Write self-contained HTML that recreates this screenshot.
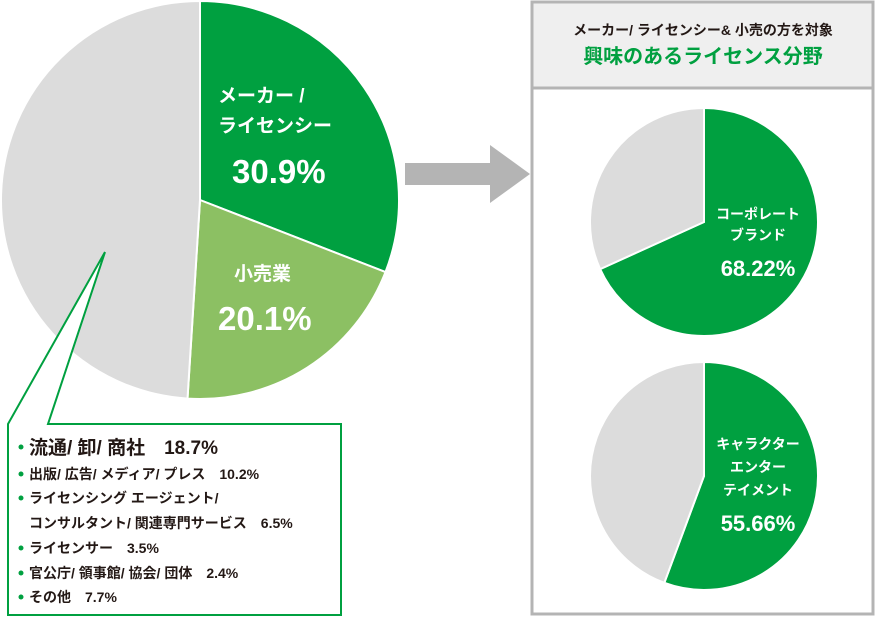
<!DOCTYPE html>
<html><head><meta charset="utf-8">
<style>
body{margin:0;background:#fff;font-family:"Liberation Sans","Noto Sans CJK JP",sans-serif;}
svg{display:block}
text{font-family:"Liberation Sans","Noto Sans CJK JP",sans-serif;font-weight:bold}
</style></head>
<body>
<svg id="chart" width="876" height="618" viewBox="0 0 876 618">
  <g id="mainPie"></g>
  <polygon points="105,252 8,424 48,424" fill="#fff"/>
  <polyline points="105,252 8,424 8,615 341,615 341,424 48,424 105,252" fill="#fff" stroke="#00a040" stroke-width="2"/>
  <g fill="#231815">
    <g fill="#00a040"><circle cx="21" cy="447" r="2.5"/><circle cx="21" cy="474" r="2.5"/><circle cx="21" cy="498" r="2.5"/><circle cx="21" cy="548" r="2.5"/><circle cx="21" cy="573" r="2.5"/><circle cx="21" cy="597" r="2.5"/></g>
    <text x="29" y="454" font-size="19">流通/ 卸/ 商社　18.7%</text>
    <text x="29" y="479" font-size="14">出版/ 広告/ メディア/ プレス　10.2%</text>
    <text x="29" y="503" font-size="14">ライセンシング エージェント/</text>
    <text x="29" y="528" font-size="14">コンサルタント/ 関連専門サービス　6.5%</text>
    <text x="29" y="553" font-size="14">ライセンサー　3.5%</text>
    <text x="29" y="578" font-size="14">官公庁/ 領事館/ 協会/ 団体　2.4%</text>
    <text x="29" y="602" font-size="14">その他　7.7%</text>
  </g>
  <g fill="#fff">
    <text x="218" y="102" font-size="19">メーカー /</text>
    <text x="218" y="132" font-size="19">ライセンシー</text>
    <text x="232" y="183" font-size="33">30.9%</text>
    <text x="234" y="280" font-size="19">小売業</text>
    <text x="218" y="330" font-size="33">20.1%</text>
  </g>
  <polygon points="405,163 490,163 490,145 530,174 490,203 490,185 405,185" fill="#b4b4b4"/>
  <rect x="532" y="2" width="341" height="612" fill="#fff" stroke="#b4b4b4" stroke-width="3"/>
  <rect x="532" y="2" width="341" height="86" fill="#efefef" stroke="#b4b4b4" stroke-width="3"/>
  <text x="703" y="35" font-size="14" text-anchor="middle" fill="#231815">メーカー/ ライセンシー&amp; 小売の方を対象</text>
  <text x="703" y="63" font-size="20" text-anchor="middle" fill="#00a040">興味のあるライセンス分野</text>
  <g id="pieTop"></g>
  <g id="pieBottom"></g>
  <g fill="#fff">
    <text x="758" y="219" font-size="14" text-anchor="middle">コーポレート</text>
    <text x="758" y="240" font-size="14" text-anchor="middle">ブランド</text>
    <text x="758" y="276" font-size="22" text-anchor="middle">68.22%</text>
    <text x="758" y="449" font-size="14" text-anchor="middle">キャラクター</text>
    <text x="758" y="472" font-size="14" text-anchor="middle">エンター</text>
    <text x="758" y="495" font-size="14" text-anchor="middle">テイメント</text>
    <text x="758" y="531" font-size="22" text-anchor="middle">55.66%</text>
  </g>
</svg>
<script>
const mainCategories = ["licensee","retail","other"];
const mainValues = [30.9, 20.1, 49.0];
const mainColors = ["#00a040","#8cc063","#dcdcdc"];
const topValues = [68.22, 31.78];
const bottomValues = [55.66, 44.34];
const subColors = ["#00a040","#dcdcdc"];
const NS="http://www.w3.org/2000/svg";
function drawPie(gid, vals, colors, cx, cy, r, names){
  const g=document.getElementById(gid);
  const total=vals.reduce((a,b)=>a+b,0);
  let a0=0;
  vals.forEach((v,i)=>{
    const a1=a0+v/total*2*Math.PI;
    const x0=cx+r*Math.sin(a0),y0=cy-r*Math.cos(a0);
    const x1=cx+r*Math.sin(a1),y1=cy-r*Math.cos(a1);
    const large=(a1-a0)>Math.PI?1:0;
    const p=document.createElementNS(NS,"path");
    p.setAttribute("d",`M${cx},${cy}L${x0},${y0}A${r},${r} 0 ${large} 1 ${x1},${y1}Z`);
    p.setAttribute("fill",colors[i]);
    p.setAttribute("stroke","#fff");
    p.setAttribute("stroke-width","2");
    
    
    g.appendChild(p);
    a0=a1;
  });
}
drawPie("mainPie",mainValues,mainColors,200,200,199,mainCategories);
drawPie("pieTop",topValues,subColors,704,222,114,["corporate-brand","rest"]);
drawPie("pieBottom",bottomValues,subColors,704,476,114,["character","rest"]);
</script>
</body></html>
